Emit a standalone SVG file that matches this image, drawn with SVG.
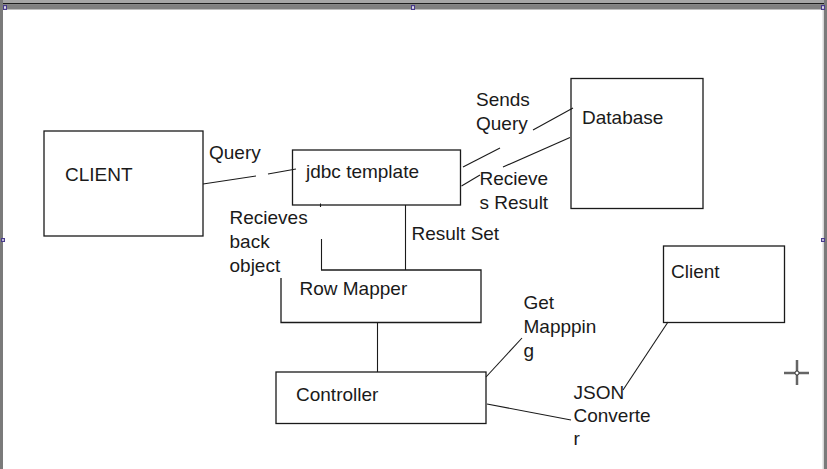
<svg xmlns="http://www.w3.org/2000/svg" width="827" height="469" viewBox="0 0 827 469">
<style>
.box{fill:none;stroke:#1a1a1a;stroke-width:1.3}
.ln{fill:none;stroke:#1a1a1a;stroke-width:1.1}
text{font-family:"Liberation Sans",Arial,sans-serif;font-size:19px;fill:#1a1a1a}
</style>
<rect x="0" y="0" width="827" height="469" fill="#ffffff"/>
<g id="frame">
<rect x="0" y="0" width="827" height="3" fill="#a6a6a6"/>
<rect x="0" y="3" width="827" height="1.5" fill="#1e1e1e"/>
<rect x="0" y="4.5" width="827" height="5" fill="#808080"/>
<rect x="0" y="0" width="3" height="469" fill="#7a7a7a"/>
<rect x="824" y="0" width="3" height="469" fill="#7a7a7a"/>
<rect x="822.5" y="9" width="1.5" height="460" fill="#d8d8d8"/>
<g fill="#ffffff" stroke="#4a3c8c" stroke-width="1.2">
<rect x="3.6" y="5.6" width="2.8" height="3.8"/>
<rect x="411.6" y="5.6" width="2.8" height="3.8"/>
<rect x="821.6" y="5.6" width="2.8" height="3.8"/>
<rect x="1.6" y="238.6" width="2.8" height="2.8"/>
<rect x="821.6" y="238.6" width="2.8" height="2.8"/>
</g>
</g>
<g id="connectors">
<line class="ln" x1="203" y1="184" x2="256" y2="176"/>
<line class="ln" x1="268" y1="174" x2="296" y2="169"/>
<line class="ln" x1="463" y1="167" x2="500" y2="148"/>
<line class="ln" x1="533" y1="130" x2="573" y2="108"/>
<line class="ln" x1="570" y1="137.5" x2="503" y2="167"/>
<line class="ln" x1="480" y1="175" x2="461.5" y2="186"/>
<line class="ln" x1="405.5" y1="205" x2="405.5" y2="270"/>
<line class="ln" x1="320.5" y1="203.5" x2="320.5" y2="207"/>
<line class="ln" x1="321.5" y1="239" x2="321.5" y2="270"/>
<line class="ln" x1="377.5" y1="322" x2="377.5" y2="372"/>
<line class="ln" x1="486" y1="377" x2="522" y2="338"/>
<line class="ln" x1="487" y1="404" x2="571" y2="420"/>
<line class="ln" x1="668" y1="322" x2="623" y2="390"/>
</g>
<g id="client-left">
<rect class="box" x="44" y="131" width="159" height="105"/>
<text x="65" y="181">CLIENT</text>
</g>
<g id="jdbc-template">
<rect class="box" x="292.5" y="150" width="168" height="55"/>
<text x="306" y="177.5">jdbc template</text>
</g>
<g id="database">
<rect class="box" x="571" y="78.5" width="132" height="130"/>
<text x="582" y="123.5">Database</text>
</g>
<g id="row-mapper">
<path class="box" d="M321 270 H481 V322.5 H281 V278"/>
<text x="299.5" y="295">Row Mapper</text>
</g>
<g id="controller">
<rect class="box" x="276" y="372" width="210" height="51.5"/>
<text x="296" y="401">Controller</text>
</g>
<g id="client-right">
<rect class="box" x="663.5" y="246" width="121" height="76.5"/>
<text x="671" y="278">Client</text>
</g>
<g id="labels">
<text x="209" y="159">Query</text>
<text x="476" y="106">Sends</text>
<text x="476" y="129.5">Query</text>
<text x="479.5" y="185">Recieve</text>
<text x="479.5" y="208.5">s Result</text>
<text x="229.5" y="224">Recieves</text>
<text x="229.5" y="248">back</text>
<text x="229.5" y="272">object</text>
<text x="411.5" y="240">Result Set</text>
<text x="523.5" y="309">Get</text>
<text x="523.5" y="333">Mapppin</text>
<text x="523.5" y="357">g</text>
<text x="573.5" y="398.5">JSON</text>
<text x="573.5" y="422">Converte</text>
<text x="573.5" y="445">r</text>
</g>
<g id="cursor">
<g stroke="#b0b0b0" stroke-width="3">
<line x1="784" y1="373" x2="809" y2="373"/>
<line x1="797" y1="360" x2="797" y2="385"/>
</g>
<g stroke="#1a1a1a" stroke-width="1">
<line x1="784" y1="373" x2="809" y2="373"/>
<line x1="797" y1="360" x2="797" y2="385"/>
</g>
<circle cx="797" cy="373" r="2" fill="#ffffff" stroke="#1a1a1a" stroke-width="0.8"/>
</g>
</svg>
